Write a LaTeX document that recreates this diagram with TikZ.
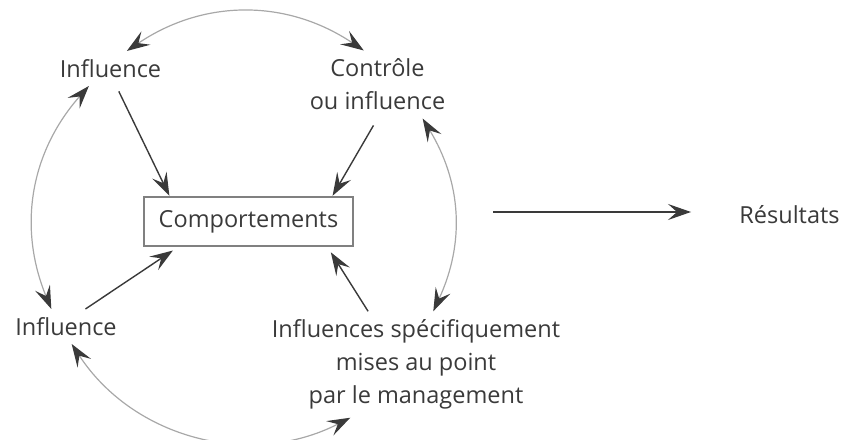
\documentclass[tikz,border=0pt]{standalone}
\usepackage{fontspec}
\setmainfont{Open Sans}
\usetikzlibrary{arrows.meta}
\definecolor{ink}{HTML}{3A3A3A}
\definecolor{ring}{HTML}{A8A8A8}
\begin{document}
\begin{tikzpicture}[x=0.5pt,y=0.5pt,
    every node/.style={text=ink,inner sep=4pt,align=center,font=\fontsize{11.75}{16.5}\selectfont},
    arr/.style={-{Stealth[length=11.5pt,width=8pt,inset=4.5pt]},draw=ink,line width=0.7pt},
    cyc/.style={{Stealth[length=11.5pt,width=8pt,inset=4.5pt,color=ink]}-{Stealth[length=11.5pt,width=8pt,inset=4.5pt,color=ink]},draw=ring,line width=0.6pt},
    boxed/.style={draw=gray,line width=1.2pt,minimum width=104.5pt,minimum height=24.5pt}]
    \useasboundingbox (0,0) rectangle (848,440);
    \node (inf1) at (110.5,371.5) {Influence};
    \node (ctrl) at (377.5,355.5) {Contrôle\\ou influence};
    \node[boxed] (comp) at (248.5,218.5) {Comportements};
    \node (inf2) at (66,113.5) {Influence};
    \node (mgmt) at (416,75.5) {Influences spécifiquement\\mises au point\\par le management};
    \node (res) at (789.5,225) {Résultats};
    \coordinate (out) at (493,228);
    \draw[arr,shorten <=3pt] (inf1.-72) -- (comp.162);
    \draw[arr,shorten <=4pt] (ctrl.south) -- (comp.17);
    \draw[arr,shorten >=3pt] (inf2.42) -- (comp.200);
    \draw[arr,shorten >=3pt] (mgmt.132) -- (comp.-18);
    \draw[arr,shorten >=20pt] (out) -- (out -| res.west);
    \draw[cyc] (inf1.47) to[bend left=34] (ctrl.112);
    \draw[cyc] (ctrl.-37) to[bend left=28] (mgmt.72);
    \draw[cyc] (mgmt.219) to[bend left=42] (inf2.-72);
    \draw[cyc] (inf2.130) to[bend left=32] (inf1.219);
\end{tikzpicture}
\end{document}
